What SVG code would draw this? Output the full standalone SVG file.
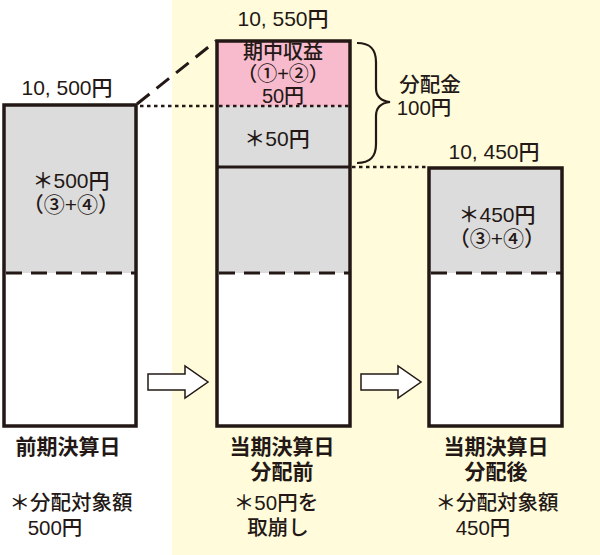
<svg xmlns="http://www.w3.org/2000/svg" width="600" height="555" viewBox="0 0 600 555">
<style>
text{font-family:"Liberation Sans","Noto Sans CJK JP",sans-serif;fill:#231815;text-anchor:middle;font-weight:500}
.t{font-size:21px}
.s{font-size:20.5px}
.i{font-size:21px}
.m{font-size:20px}
.b{font-size:21px;font-weight:bold}
.box{fill:none;stroke:#231815;stroke-width:3.5}
.dash{stroke:#231815;stroke-width:3;stroke-dasharray:16 9;fill:none}
.dot{stroke:#231815;stroke-width:2.5;stroke-dasharray:3.5 3.5;fill:none}
.arrow{fill:#fff;stroke:#231815;stroke-width:1.5;stroke-linejoin:miter}
</style>
<rect x="0" y="0" width="600" height="555" fill="#fff"/>
<rect x="172" y="0" width="428" height="555" fill="#FFFBDB"/>

<g id="box1">
<rect x="4" y="105" width="132" height="168" fill="#DCDCDC"/>
<rect x="4" y="273" width="132" height="153" fill="#fff"/>
<line x1="4" y1="273" x2="136" y2="273" class="dash" stroke-dashoffset="-2"/>
<rect x="4" y="105" width="132" height="321" class="box"/>
<text x="67" y="95" class="t">10, 500円</text>
<text x="71" y="188" class="i">＊500円</text>
<text x="71" y="212" class="i">（③+④）</text>
<text x="68" y="454" class="b">前期決算日</text>
<text x="71" y="510" class="s">＊分配対象額</text>
<text x="55" y="535" class="s">500円</text>
</g>

<g id="box2">
<rect x="217" y="41" width="133" height="65" fill="#F7BBCD"/>
<rect x="217" y="106" width="133" height="167" fill="#DCDCDC"/>
<rect x="217" y="273" width="133" height="153" fill="#fff"/>
<line x1="217" y1="167" x2="350" y2="167" stroke="#231815" stroke-width="3"/>
<line x1="217" y1="273" x2="350" y2="273" class="dash" stroke-dashoffset="-2"/>
<rect x="217" y="41" width="133" height="385" class="box"/>
<text x="283" y="26" class="t">10, 550円</text>
<text x="283" y="59" class="m">期中収益</text>
<text x="283" y="81" class="m">（①+②）</text>
<text x="283" y="103" class="m">50円</text>
<text x="277" y="146" class="i">＊50円</text>
<text x="282" y="454" class="b">当期決算日</text>
<text x="282" y="479" class="b">分配前</text>
<text x="276" y="510" class="s">＊50円を</text>
<text x="278" y="535" class="s">取崩し</text>
</g>

<g id="box3">
<rect x="429" y="168" width="133" height="105" fill="#DCDCDC"/>
<rect x="429" y="273" width="133" height="153" fill="#fff"/>
<line x1="429" y1="273" x2="562" y2="273" class="dash" stroke-dashoffset="-2"/>
<rect x="429" y="168" width="133" height="258" class="box"/>
<text x="494" y="159" class="t">10, 450円</text>
<text x="497" y="222" class="i">＊450円</text>
<text x="497" y="246" class="i">（③+④）</text>
<text x="496" y="454" class="b">当期決算日</text>
<text x="496" y="479" class="b">分配後</text>
<text x="497" y="510" class="s">＊分配対象額</text>
<text x="483" y="535" class="s">450円</text>
</g>

<g id="bracket">
<path d="M357 43 C371 43 376 50 376 62 L376 88 C376 97 381 101 390 102 C381 103 376 107 376 116 L376 144 C376 156 371 163 357 163" fill="none" stroke="#231815" stroke-width="2.2"/>
<text x="430" y="92" class="s">分配金</text>
<text x="424" y="115" class="s">100円</text>
</g>

<g id="connectors">
<line x1="137" y1="104" x2="216" y2="41" class="dash" stroke-dasharray="10 7"/>
<line x1="140" y1="106" x2="215" y2="106" class="dot"/>
<line x1="219" y1="106" x2="349" y2="106" class="dot"/>
<line x1="352" y1="167" x2="427" y2="167" class="dot"/>
<path d="M148 374 L185 374 L185 366 L208 382 L185 398 L185 390 L148 390 Z" class="arrow"/>
<path d="M361 374 L398 374 L398 366 L421 382 L398 398 L398 390 L361 390 Z" class="arrow"/>
</g>
</svg>
